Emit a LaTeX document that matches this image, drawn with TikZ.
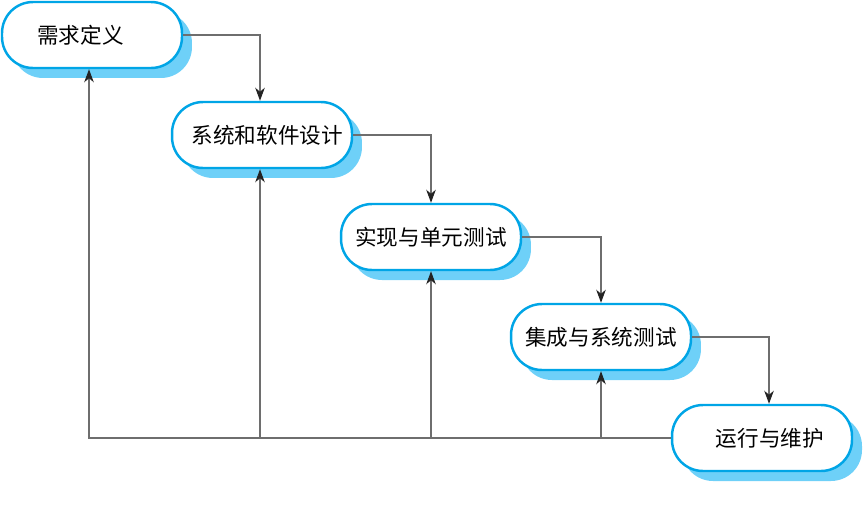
\documentclass[tikz,border=0pt]{standalone}
\usepackage{fontspec}
\setmainfont{Noto Sans CJK SC}
\usetikzlibrary{arrows.meta,positioning}
\definecolor{stageB}{RGB}{0,165,230}
\definecolor{shadB}{RGB}{110,208,248}
\definecolor{lineG}{RGB}{110,110,110}
\definecolor{tipK}{RGB}{35,35,35}

\begin{document}
\begin{tikzpicture}[x=0.02cm,y=-0.02cm,font=\fontsize{12.3}{14}\selectfont]
  \tikzset{stage/.style={draw=stageB,line width=1.4pt,fill=white,rounded corners=0.62cm,minimum width=3.6cm,minimum height=1.32cm,inner sep=0pt},
    shad/.style={fill=shadB,rounded corners=0.62cm,minimum width=3.6cm,minimum height=1.32cm,inner sep=0pt},
    flow/.style={lineG,line width=0.6pt,-{Stealth[length=2.6mm,width=1.9mm,inset=0.8mm,color=tipK]}}}
  \useasboundingbox (0,0) rectangle (864,504);
  % shadows first
  \foreach \x/\y in {92/35,262/135,431/237,601/337,762/438}
    \node[shad] at (\x+10,\y+10) {};
  \node[stage] (req) at (92,35) {\hspace*{-13pt}需求定义};
  \node[stage] (des) at (262,135) {\hspace*{6pt}系统和软件设计};
  \node[stage] (imp) at (431,237) {实现与单元测试};
  \node[stage] (tst) at (601,337) {集成与系统测试};
  \node[stage] (run) at (762,438) {\hspace*{9pt}运行与维护};
  % forward flow
  \foreach \a/\b/\s in {req/des/-2,des/imp/0,imp/tst/0,tst/run/7}
    \draw[flow] (\a.east) -| ([xshift=\s*0.02cm]\b.north);
  % feedback
  \draw[flow] (run.west) -| ([xshift=-0.06cm]req.south);
  \foreach \a/\s in {des/-2,imp/0,tst/0}
    \draw[flow] ([xshift=\s*0.02cm]\a.south |- run.west) -- ([xshift=\s*0.02cm]\a.south);
\end{tikzpicture}
\end{document}
